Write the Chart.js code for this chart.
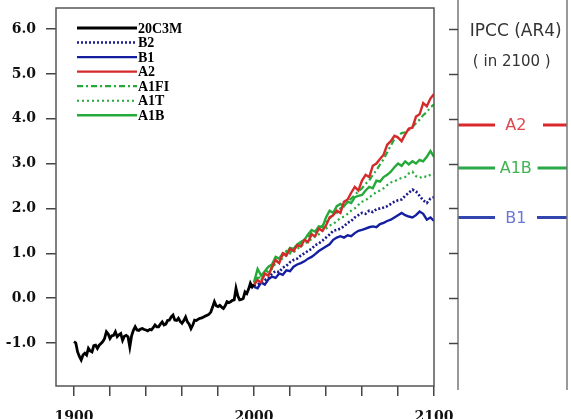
<!DOCTYPE html>
<html>
<head>
<meta charset="utf-8">
<script src="https://cdn.jsdelivr.net/npm/chart.js@4.4.1/dist/chart.umd.min.js"></script>
<style>
    html, body { margin: 0; padding: 0; background: #fff; }
    #wrap { position: relative; width: 571px; height: 419px; overflow: hidden; }
    #mainChart { position: absolute; left: 0; top: 0; }
    #panelChart { position: absolute; left: 440px; top: 0; }
</style>
</head>
<body>
<div id="wrap">
    <canvas id="mainChart" width="571" height="419"></canvas>
    <canvas id="panelChart" width="131" height="419"></canvas>
</div>
<script>
'use strict';

// --- data ---
const histYears = Array.from({ length: 101 }, (_, i) => 1900 + i);
const histValues = [
    -0.97, -1.00, -1.20, -1.30, -1.38, -1.27, -1.23, -1.27, -1.12, -1.18,
    -1.20, -1.06, -1.05, -1.12, -1.05, -1.01, -0.97, -0.90, -0.75, -0.80,
    -0.90, -0.84, -0.83, -0.75, -0.86, -0.82, -0.79, -0.94, -0.85, -0.83,
    -0.86, -1.09, -0.84, -0.72, -0.64, -0.71, -0.72, -0.69, -0.68, -0.70,
    -0.71, -0.73, -0.70, -0.71, -0.66, -0.60, -0.64, -0.64, -0.58, -0.53,
    -0.60, -0.58, -0.50, -0.49, -0.42, -0.38, -0.49, -0.50, -0.45, -0.52,
    -0.56, -0.50, -0.42, -0.53, -0.58, -0.68, -0.60, -0.49, -0.50, -0.47,
    -0.45, -0.44, -0.42, -0.40, -0.38, -0.36, -0.31, -0.20, -0.08, -0.17,
    -0.19, -0.16, -0.20, -0.23, -0.17, -0.08, -0.10, -0.08, -0.05, -0.04,
    0.22, 0.05, -0.04, -0.03, -0.01, 0.14, 0.10, 0.20, 0.33, 0.25,
    0.30
];

const scenarioYears = Array.from({ length: 51 }, (_, i) => 2000 + i * 2);
const b2Values = [
    0.28, 0.30, 0.35, 0.40, 0.45, 0.55, 0.60, 0.58, 0.68, 0.72,
    0.80, 0.85, 0.88, 0.95, 1.00, 1.05, 1.10, 1.18, 1.22, 1.28,
    1.35, 1.42, 1.50, 1.52, 1.55, 1.60, 1.68, 1.72, 1.80, 1.85,
    1.90, 1.88, 1.95, 1.92, 1.98, 2.00, 2.02, 2.05, 2.10, 2.15,
    2.18, 2.20, 2.28, 2.35, 2.42, 2.38, 2.28, 2.18, 2.12, 2.22,
    2.25
];
const b1Values = [
    0.25, 0.22, 0.35, 0.30, 0.42, 0.48, 0.45, 0.55, 0.52, 0.62,
    0.60, 0.70, 0.75, 0.78, 0.82, 0.88, 0.92, 0.98, 1.05, 1.10,
    1.15, 1.20, 1.30, 1.35, 1.38, 1.35, 1.40, 1.38, 1.45, 1.50,
    1.52, 1.55, 1.58, 1.60, 1.58, 1.65, 1.68, 1.72, 1.75, 1.80,
    1.85, 1.90, 1.85, 1.82, 1.80, 1.85, 1.93, 1.88, 1.75, 1.80,
    1.72
];
const a2Values = [
    0.30, 0.40, 0.35, 0.55, 0.50, 0.70, 0.85, 0.78, 1.00, 0.95,
    1.10, 1.05, 1.18, 1.15, 1.30, 1.25, 1.42, 1.38, 1.55, 1.50,
    1.62, 1.80, 1.85, 1.95, 1.90, 2.15, 2.20, 2.35, 2.48, 2.40,
    2.62, 2.75, 2.70, 2.95, 3.00, 3.10, 3.20, 3.42, 3.50, 3.62,
    3.58, 3.50, 3.65, 3.78, 3.80, 4.05, 4.10, 4.35, 4.28, 4.45,
    4.55
];
const a1fiValues = [
    0.35, 0.50, 0.40, 0.55, 0.62, 0.68, 0.80, 0.88, 0.95, 1.05,
    1.00, 1.15, 1.12, 1.25, 1.30, 1.35, 1.45, 1.48, 1.55, 1.62,
    1.70, 1.78, 1.85, 1.90, 2.00, 2.05, 2.15, 2.22, 2.30, 2.38,
    2.45, 2.55, 2.62, 2.75, 2.85, 2.98, 3.10, 3.25, 3.40, 3.55,
    3.62, 3.68, 3.70, 3.75, 3.82, 3.90, 3.98, 4.08, 4.15, 4.25,
    4.32
];
const a1tValues = [
    0.35, 0.45, 0.40, 0.55, 0.60, 0.65, 0.78, 0.80, 0.90, 0.95,
    1.00, 1.02, 1.10, 1.15, 1.22, 1.25, 1.32, 1.38, 1.42, 1.50,
    1.55, 1.62, 1.65, 1.72, 1.78, 1.82, 1.88, 1.95, 2.00, 2.08,
    2.15, 2.18, 2.25, 2.30, 2.37, 2.40, 2.45, 2.52, 2.58, 2.60,
    2.65, 2.68, 2.70, 2.78, 2.82, 2.72, 2.68, 2.72, 2.70, 2.75,
    2.78
];
const a1bValues = [
    0.35, 0.65, 0.50, 0.60, 0.70, 0.75, 0.92, 0.88, 1.00, 0.98,
    1.12, 1.10, 1.20, 1.25, 1.30, 1.42, 1.52, 1.48, 1.60, 1.58,
    1.80, 1.95, 1.90, 2.05, 2.10, 2.05, 2.15, 2.12, 2.25, 2.28,
    2.30, 2.40, 2.48, 2.45, 2.62, 2.60, 2.70, 2.75, 2.82, 2.92,
    3.00, 2.95, 3.05, 2.98, 3.05, 3.00, 3.08, 3.05, 3.15, 3.28,
    3.15
];

const legendOrder = ['20C3M', 'B2', 'B1', 'A2', 'A1FI', 'A1T', 'A1B'];

const yTickValues = [-1, 0, 1, 2, 3, 4, 5, 6];
const xTickValues = [1900, 1920, 1940, 1960, 1980, 2000, 2020, 2040, 2060, 2080, 2100];
const xLabelYears = [1900, 2000, 2100];

const panelTitle = ['IPCC (AR4)', '( in 2100 )'];
const panelNames = ['A2', 'A1B', 'B1'];
const panelValues = [3.86, 2.9, 1.8];

// --- styles ---
const Y_MIN = -1.96;
const Y_MAX = 6.47;
const colors = {
    black: '#000000',
    navy: '#1a1a8a',
    blue: '#141ea0',
    red: '#d42a2a',
    green: '#25aa3a'
};
const panelStyle = {
    A2: { line: '#d9282e', text: '#e0474c', gap: [0.34, 0.78] },
    A1B: { line: '#2aa84a', text: '#3fb454', gap: [0.34, 0.73] },
    B1: { line: '#3346b0', text: '#6b78d6', gap: [0.34, 0.725] }
};

function toPoints(xs, ys) {
    return xs.map((x, i) => ({ x, y: ys[i] }));
}

// keep tick label padding from pushing the plot area around
function fixedWidth(width) {
    return (s) => {
        s.width = width;
        s.paddingTop = 0;
        s.paddingBottom = 0;
    };
}

const mainDatasets = [
    { label: '20C3M', data: toPoints(histYears, histValues), borderColor: colors.black, borderWidth: 2.8, order: 0 },
    { label: 'B2', data: toPoints(scenarioYears, b2Values), borderColor: colors.navy, borderWidth: 2.6, borderDash: [2, 2], order: 5 },
    { label: 'B1', data: toPoints(scenarioYears, b1Values), borderColor: colors.blue, borderWidth: 2.4, order: 6 },
    { label: 'A2', data: toPoints(scenarioYears, a2Values), borderColor: colors.red, borderWidth: 2.4, order: 1 },
    { label: 'A1FI', data: toPoints(scenarioYears, a1fiValues), borderColor: colors.green, borderWidth: 2.2, borderDash: [6, 3, 2, 3], order: 2 },
    { label: 'A1T', data: toPoints(scenarioYears, a1tValues), borderColor: colors.green, borderWidth: 2.2, borderDash: [2, 3], order: 4 },
    { label: 'A1B', data: toPoints(scenarioYears, a1bValues), borderColor: colors.green, borderWidth: 2.4, order: 3 }
].map((ds) => Object.assign({ pointRadius: 0, tension: 0, fill: false }, ds));

const framePlugin = {
    id: 'frame',
    afterDraw(chart) {
        const { ctx, chartArea: a } = chart;
        ctx.save();
        ctx.strokeStyle = '#555';
        ctx.lineWidth = 1.5;
        ctx.strokeRect(a.left, a.top, a.right - a.left, a.bottom - a.top);
        ctx.restore();
    }
};

const legendPlugin = {
    id: 'inlineLegend',
    afterDatasetsDraw(chart) {
        const { ctx, chartArea: a } = chart;
        const x0 = a.left + 21;
        const x1 = a.left + 81;
        ctx.save();
        ctx.font = 'bold 14px "Liberation Serif"';
        ctx.textBaseline = 'middle';
        ctx.fillStyle = '#000';
        legendOrder.forEach((name, i) => {
            const ds = chart.data.datasets.find((d) => d.label === name);
            const y = a.top + 20 + i * 14.55;
            ctx.strokeStyle = ds.borderColor;
            ctx.lineWidth = ds.borderWidth;
            ctx.setLineDash(ds.borderDash || []);
            ctx.beginPath();
            ctx.moveTo(x0, y);
            ctx.lineTo(x1, y);
            ctx.stroke();
            ctx.fillText(name, x1 + 1, y + 1);
        });
        ctx.restore();
    }
};

new Chart(document.getElementById('mainChart'), {
    type: 'line',
    data: { datasets: mainDatasets },
    options: {
        responsive: false,
        animation: false,
        layout: { padding: { top: 8, right: 137, left: 0, bottom: 0 } },
        plugins: { legend: { display: false }, tooltip: { enabled: false } },
        scales: {
            x: {
                type: 'linear',
                min: 1890,
                max: 2100,
                afterBuildTicks: (s) => { s.ticks = xTickValues.map((v) => ({ value: v })); },
                afterFit: (s) => { s.height = 33; },
                border: { display: false },
                grid: { drawOnChartArea: false, tickLength: 10, color: '#444', lineWidth: 1.5 },
                ticks: {
                    autoSkip: false,
                    maxRotation: 0,
                    padding: 13,
                    color: '#111',
                    font: { family: 'DejaVu Serif', weight: 'bold', size: 14 },
                    callback: (v) => (xLabelYears.includes(v) ? String(v) : '')
                }
            },
            y: {
                type: 'linear',
                min: Y_MIN,
                max: Y_MAX,
                afterBuildTicks: (s) => { s.ticks = yTickValues.map((v) => ({ value: v })); },
                afterFit: fixedWidth(56),
                border: { display: false },
                grid: { drawOnChartArea: false, tickLength: 10, color: '#444', lineWidth: 1.5 },
                ticks: {
                    padding: 10,
                    color: '#111',
                    font: { family: 'DejaVu Serif', weight: 'bold', size: 14, lineHeight: 1 },
                    callback: (v) => Number(v).toFixed(1)
                }
            }
        }
    },
    plugins: [framePlugin, legendPlugin]
});

// --- right-hand IPCC panel ---
const panelDatasets = panelNames.map((name, i) => {
    const v = panelValues[i];
    const [g0, g1] = panelStyle[name].gap;
    return {
        label: name,
        data: [
            { x: 0, y: v }, { x: g0, y: v },
            { x: (g0 + g1) / 2, y: null },
            { x: g1, y: v }, { x: 1, y: v }
        ],
        borderColor: panelStyle[name].line,
        borderWidth: 3,
        pointRadius: 0,
        spanGaps: false
    };
});

const panelDecor = {
    id: 'panelDecor',
    afterDraw(chart) {
        const { ctx, chartArea: a, scales } = chart;
        ctx.save();
        ctx.strokeStyle = '#777';
        ctx.lineWidth = 1.5;
        [a.left, a.right].forEach((x) => {
            ctx.beginPath();
            ctx.moveTo(x, 0);
            ctx.lineTo(x, 390);
            ctx.stroke();
        });
        // tick marks on the panel's left edge, placed by its y scale
        ctx.strokeStyle = '#444';
        scales.y.ticks.forEach((t) => {
            const y = Math.round(scales.y.getPixelForValue(t.value)) + 0.5;
            ctx.beginPath();
            ctx.moveTo(a.left - 9, y);
            ctx.lineTo(a.left, y);
            ctx.stroke();
        });
        const cx = a.left + (a.right - a.left) * 0.53;
        ctx.textAlign = 'center';
        ctx.textBaseline = 'middle';
        ctx.fillStyle = '#333';
        ctx.font = '17px "DejaVu Sans"';
        ctx.fillText(panelTitle[0], cx, 32);
        ctx.font = '15px "DejaVu Sans"';
        ctx.fillText(panelTitle[1], cx - 4, 62);
        ctx.font = '16px "DejaVu Sans"';
        panelNames.forEach((name, i) => {
            ctx.fillStyle = panelStyle[name].text;
            ctx.fillText(name, cx, scales.y.getPixelForValue(panelValues[i]) + 1);
        });
        ctx.restore();
    }
};

new Chart(document.getElementById('panelChart'), {
    type: 'line',
    data: { datasets: panelDatasets },
    options: {
        responsive: false,
        animation: false,
        layout: { padding: { top: 8, right: 4, left: 0, bottom: 33 } },
        plugins: { legend: { display: false }, tooltip: { enabled: false } },
        scales: {
            x: { type: 'linear', min: 0, max: 1, display: false },
            y: {
                type: 'linear',
                min: Y_MIN,
                max: Y_MAX,
                afterBuildTicks: (s) => { s.ticks = yTickValues.map((v) => ({ value: v })); },
                afterFit: fixedWidth(18),
                border: { display: false },
                grid: { display: false },
                ticks: { padding: 0, callback: () => '' }
            }
        }
    },
    plugins: [panelDecor]
});
</script>
</body>
</html>
